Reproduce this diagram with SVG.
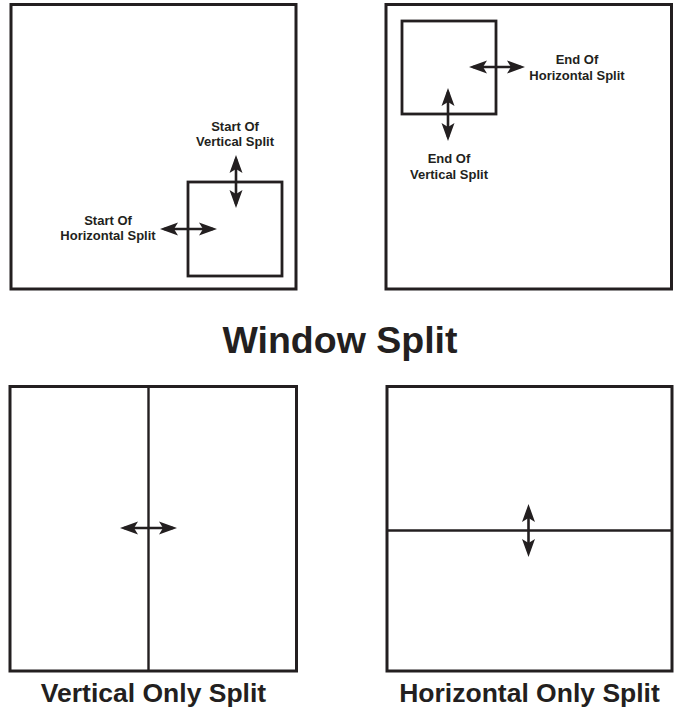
<svg xmlns="http://www.w3.org/2000/svg" width="674" height="711" viewBox="0 0 674 711">
  <style>
    .frame { fill: none; stroke: #231f20; stroke-width: 3; }
    .inner { fill: none; stroke: #231f20; stroke-width: 2.8; }
    .divider { fill: none; stroke: #231f20; stroke-width: 2.4; }
    .arrow { fill: none; stroke: #231f20; stroke-width: 2.6; marker-start: url(#head); marker-end: url(#head); }
    .small { font-family: "Liberation Sans", Arial, sans-serif; font-weight: bold; font-size: 13px; fill: #231f20; text-anchor: middle; }
    .caption { font-family: "Liberation Sans", Arial, sans-serif; font-weight: bold; font-size: 26.5px; fill: #231f20; text-anchor: middle; }
    .title { font-family: "Liberation Sans", Arial, sans-serif; font-weight: bold; font-size: 37.5px; fill: #231f20; text-anchor: middle; }
  </style>
  <defs>
    <marker id="head" markerUnits="userSpaceOnUse" markerWidth="18" markerHeight="14" viewBox="0 0 18 14" refX="14" refY="7" orient="auto-start-reverse">
      <path d="M18,7 L0,0.5 L4,7 L0,13.5 Z" fill="#231f20"/>
    </marker>
  </defs>

  <g id="start-split">
    <rect class="frame" x="11" y="4.5" width="285" height="284.5"/>
    <rect class="inner" x="188" y="182" width="94" height="94"/>
    <text class="small" x="235" y="131">Start Of</text>
    <text class="small" x="235" y="146">Vertical Split</text>
    <text class="small" x="108" y="225">Start Of</text>
    <text class="small" x="108" y="240">Horizontal Split</text>
  </g>

  <g id="end-split">
    <rect class="frame" x="386" y="4.5" width="285.5" height="284.5"/>
    <rect class="inner" x="402" y="21" width="94" height="93"/>
    <text class="small" x="577" y="64">End Of</text>
    <text class="small" x="577" y="80">Horizontal Split</text>
    <text class="small" x="449" y="163">End Of</text>
    <text class="small" x="449" y="179">Vertical Split</text>
  </g>

  <g id="title">
    <text class="title" x="340" y="353">Window Split</text>
  </g>

  <g id="vertical-only">
    <rect class="frame" x="10" y="386.5" width="286.5" height="284.5"/>
    <line class="divider" x1="148.5" y1="386.5" x2="148.5" y2="671"/>
    <text class="caption" x="153.5" y="702">Vertical Only Split</text>
  </g>

  <g id="horizontal-only">
    <rect class="frame" x="387" y="386.5" width="285" height="284.5"/>
    <line class="divider" x1="387" y1="530.5" x2="672" y2="530.5"/>
    <text class="caption" x="529.5" y="702">Horizontal Only Split</text>
  </g>

  <g id="connectors">
    <line class="arrow" x1="236" y1="159" x2="236" y2="204"/>
    <line class="arrow" x1="164" y1="229" x2="213" y2="229"/>
    <line class="arrow" x1="473" y1="67" x2="521" y2="67"/>
    <line class="arrow" x1="448" y1="92" x2="448" y2="137"/>
    <line class="arrow" x1="124" y1="528" x2="173" y2="528"/>
    <line class="arrow" x1="528.5" y1="508" x2="528.5" y2="553"/>
  </g>
</svg>
